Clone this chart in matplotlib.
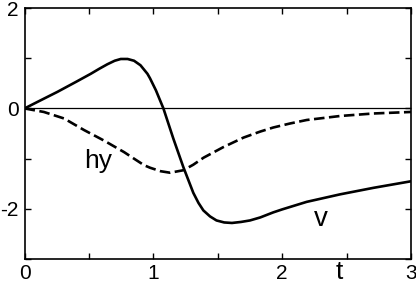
import matplotlib
matplotlib.use("Agg")
import matplotlib.pyplot as plt
from matplotlib.ticker import MultipleLocator, FixedLocator, FixedFormatter

plt.rcParams['font.family'] = ['Liberation Sans', 'DejaVu Sans']

# solid curve v(t)
t_v = [0, 0.1, 0.255, 0.4, 0.514, 0.58, 0.643, 0.7, 0.747, 0.8, 0.85, 0.9, 0.954, 0.974,
       1.02, 1.078, 1.155, 1.233, 1.31, 1.35, 1.388, 1.44, 1.49, 1.55, 1.61, 1.68, 1.75,
       1.83, 1.93, 2.0, 2.19, 2.45, 2.71, 3.0]
v = [0, 0.13, 0.33, 0.53, 0.69, 0.79, 0.88, 0.95, 0.985, 0.985, 0.95, 0.86, 0.69, 0.6,
     0.36, 0.0, -0.6, -1.17, -1.68, -1.88, -2.03, -2.15, -2.23, -2.27, -2.28, -2.26, -2.23,
     -2.17, -2.07, -2.01, -1.86, -1.71, -1.58, -1.45]

# dashed curve hy(t)
t_h = [0, 0.15, 0.307, 0.462, 0.617, 0.773, 0.85, 0.928, 0.974, 1.057, 1.13, 1.233, 1.31,
       1.39, 1.543, 1.70, 1.83, 1.93, 2.06, 2.19, 2.32, 2.45, 2.71, 3.0]
hy = [0, -0.07, -0.2, -0.43, -0.64, -0.87, -1.0, -1.13, -1.18, -1.25, -1.28, -1.23, -1.12,
      -0.98, -0.77, -0.58, -0.46, -0.38, -0.3, -0.23, -0.19, -0.15, -0.1, -0.07]

x_ticks = [0, 1, 2, 3]
x_ticklabels = ['0', '1', '2', '3']
y_ticks = [-2, 0, 2]
y_ticklabels = ['-2', '0', '2']

fig = plt.figure(figsize=(4.16, 2.86), dpi=100)
ax = fig.add_axes([0.059, 0.094, 0.929, 0.878])

ax.axhline(0, color='black', lw=0.9)
ax.plot(t_v, v, color='black', lw=1.9, solid_joinstyle='round')
ax.plot(t_h, hy, color='black', lw=1.9, linestyle=(0, (4, 1.7)))

ax.set_xlim(0, 3)
ax.set_ylim(-3, 2)
ax.xaxis.set_major_locator(FixedLocator(x_ticks))
ax.xaxis.set_major_formatter(FixedFormatter(x_ticklabels))
ax.xaxis.set_minor_locator(MultipleLocator(0.5))
ax.yaxis.set_major_locator(FixedLocator(y_ticks))
ax.yaxis.set_major_formatter(FixedFormatter(y_ticklabels))
ax.yaxis.set_minor_locator(MultipleLocator(1))
ax.tick_params(which='both', direction='in', top=True, right=True, length=4, width=1,
               labelsize=15)
ax.tick_params(axis='x', pad=3.5)
ax.tick_params(axis='y', pad=4)
for s in ax.spines.values():
    s.set_linewidth(1.2)

ax.text(0.46, -1.19, 'hy', fontsize=19, ha='left', va='baseline')
ax.text(2.30, -2.34, 'v', fontsize=20, ha='center', va='baseline')
ax.text(2.44, -3.25, 't', fontsize=19, ha='center', va='center')

fig.savefig('out.png', dpi=100)
